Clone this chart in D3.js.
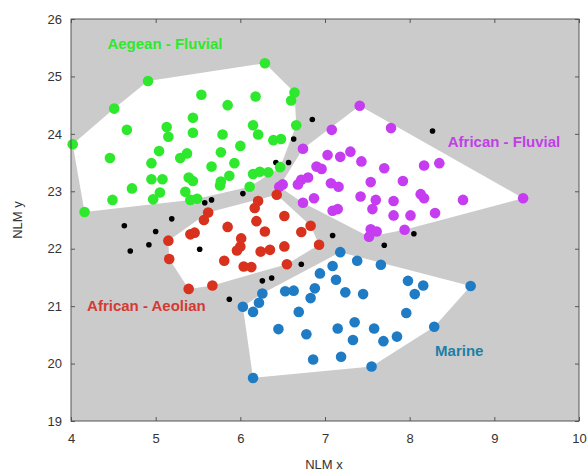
<!DOCTYPE html>
<html>
  <head>
    <meta charset="utf-8">
    <title>NLM scatter</title>
    <script src="https://d3js.org/d3.v7.min.js"></script>
    <style>
      body { margin: 0; background: #fff; }
      svg { display: block; font-family: "Liberation Sans", Arial, sans-serif; }
      .axis text { font-size: 13px; fill: #333; }
      .axis path, .axis line { stroke: #555; }
      .lbl { font-size: 15px; font-weight: bold; }
    </style>
  </head>
  <body>
    <svg id="chart" width="588" height="472"></svg>
    <script>
      // data (NLM x, NLM y)
      const aegeanFluvial = [
        [6.29,25.23],[4.91,24.92],[4.51,24.44],[4.02,23.82],[5.54,24.68],[6.18,24.65],[5.85,24.50],
        [6.64,24.72],[6.60,24.58],[5.44,24.28],[5.13,24.12],[5.15,23.95],[4.66,24.07],[5.44,24.02],
        [6.15,24.15],[6.21,23.99],[5.79,23.99],[6.66,24.15],[6.39,23.89],[6.48,23.91],[6.00,23.79],
        [4.46,23.58],[5.04,23.70],[5.29,23.58],[5.37,23.66],[5.77,23.68],[4.95,23.49],[5.93,23.49],
        [5.66,23.43],[6.47,23.42],[4.95,23.21],[5.08,23.21],[5.39,23.24],[5.44,23.18],[5.87,23.27],
        [5.77,23.17],[5.76,23.10],[6.15,23.30],[6.23,23.34],[6.33,23.33],[6.11,23.08],[4.72,23.05],
        [5.05,22.98],[5.35,22.99],[4.49,22.85],[4.97,22.86],[5.41,22.85],[5.49,22.87],[4.16,22.64]
      ];
      const africanFluvial = [
        [7.41,24.49],[7.08,24.07],[7.78,24.10],[6.74,23.74],[7.03,23.63],[7.18,23.60],[7.30,23.69],
        [7.43,23.52],[7.70,23.40],[6.90,23.43],[6.96,23.39],[8.17,23.45],[8.35,23.49],[6.80,23.24],
        [6.72,23.20],[6.68,23.12],[6.50,23.12],[6.46,23.08],[7.07,23.14],[7.16,23.08],[7.54,23.16],
        [7.92,23.18],[9.34,22.88],[8.63,22.85],[8.13,22.95],[8.17,22.88],[6.87,22.88],[6.74,22.80],
        [7.42,22.91],[7.60,22.85],[7.81,22.83],[7.09,22.66],[7.15,22.69],[7.56,22.69],[7.81,22.58],
        [8.01,22.58],[8.30,22.62],[7.54,22.34],[7.61,22.30],[7.52,22.21],[7.94,22.33]
      ];
      const africanAeolian = [
        [6.43,22.94],[6.21,22.83],[6.17,22.71],[5.62,22.63],[5.57,22.50],[6.19,22.48],[6.52,22.57],
        [5.85,22.38],[6.29,22.30],[6.72,22.29],[6.83,22.40],[5.41,22.25],[5.46,22.28],[5.15,22.14],
        [6.01,22.18],[6.00,22.04],[5.96,21.97],[6.93,22.07],[6.52,22.04],[6.24,21.95],[6.35,21.98],
        [5.16,21.82],[5.81,21.79],[6.04,21.69],[6.13,21.68],[6.55,21.73],[5.39,21.30],[5.67,21.36]
      ];
      const marine = [
        [7.18,21.94],[7.38,21.79],[7.66,21.72],[7.09,21.70],[6.94,21.57],[7.13,21.46],[7.98,21.44],
        [8.16,21.36],[8.72,21.35],[8.06,21.21],[6.88,21.31],[6.83,21.14],[7.24,21.24],[7.45,21.21],
        [6.53,21.26],[6.63,21.27],[6.26,21.22],[6.22,21.06],[6.03,20.99],[6.15,20.90],[6.69,20.90],
        [7.96,20.88],[7.35,20.72],[6.45,20.60],[6.78,20.51],[7.15,20.61],[7.58,20.61],[8.29,20.64],
        [7.85,20.47],[7.33,20.41],[7.69,20.39],[6.86,20.07],[7.19,20.12],[7.55,19.95],[6.15,19.75]
      ];
      const unassigned = [
        [6.85,24.25],[6.63,23.91],[6.42,23.50],[6.57,23.50],[6.03,22.96],[5.58,22.80],[5.66,22.85],
        [8.27,24.05],[7.09,22.23],[8.05,22.26],[5.19,22.52],[5.00,22.30],[4.92,22.07],[5.52,21.99],
        [6.72,21.73],[6.26,21.44],[6.37,21.49],[5.87,21.12],[7.70,22.06],[4.63,22.40],[4.70,21.96]
      ];
      const groupNames = ["Aegean - Fluvial", "African - Fluvial", "African - Aeolian", "Marine"];
      const xTicks = [4, 5, 6, 7, 8, 9, 10];
      const yTicks = [19, 20, 21, 22, 23, 24, 25, 26];

      const groups = [
        { name: groupNames[0], pts: aegeanFluvial, color: "#2de82d", text: "#2de82d", lx: 4.43, ly: 25.48 },
        { name: groupNames[1], pts: africanFluvial, color: "#c63cf0", text: "#c040e6", lx: 8.45, ly: 23.77 },
        { name: groupNames[2], pts: africanAeolian, color: "#d8321f", text: "#d43a33", lx: 4.19, ly: 20.92 },
        { name: groupNames[3], pts: marine, color: "#1f7cc4", text: "#1c7fa6", lx: 8.30, ly: 20.13 }
      ];

      const margin = { top: 19, right: 9, bottom: 51, left: 71 };
      const width = 588 - margin.left - margin.right;
      const height = 472 - margin.top - margin.bottom;

      const svg = d3.select("#chart");
      const g = svg.append("g").attr("transform", `translate(${margin.left},${margin.top})`);

      const x = d3.scaleLinear().domain([4, 10]).range([0, width]);
      const y = d3.scaleLinear().domain([19, 26]).range([height, 0]);

      g.append("rect").attr("width", width).attr("height", height).attr("fill", "#cbcbcb");

      // hulls
      groups.forEach(grp => {
        const hull = d3.polygonHull(grp.pts.map(d => [x(d[0]), y(d[1])]));
        g.append("path")
          .attr("d", "M" + hull.join("L") + "Z")
          .attr("fill", "#fff");
      });

      // unassigned samples
      g.selectAll(".blk")
        .data(unassigned)
        .enter().append("circle")
          .attr("cx", d => x(d[0]))
          .attr("cy", d => y(d[1]))
          .attr("r", 2.8)
          .attr("fill", "#000");

      groups.forEach(grp => {
        g.selectAll(null)
          .data(grp.pts)
          .enter().append("circle")
            .attr("cx", d => x(d[0]))
            .attr("cy", d => y(d[1]))
            .attr("r", 5.3)
            .attr("fill", grp.color);
        g.append("text")
          .attr("class", "lbl")
          .attr("x", x(grp.lx))
          .attr("y", y(grp.ly))
          .attr("fill", grp.text)
          .text(grp.name);
      });

      // axes, ticks inward on all sides
      g.append("g").attr("class", "axis")
        .attr("transform", `translate(0,${height})`)
        .call(d3.axisBottom(x).tickValues(xTicks).tickFormat(d3.format("d")).tickSize(-4).tickPadding(13));
      g.append("g").attr("class", "axis")
        .call(d3.axisLeft(y).tickValues(yTicks).tickFormat(d3.format("d")).tickSize(-4).tickPadding(9));
      g.append("g").attr("class", "axis")
        .call(d3.axisTop(x).tickValues(xTicks).tickSize(-4).tickFormat(""));
      g.append("g").attr("class", "axis")
        .attr("transform", `translate(${width},0)`)
        .call(d3.axisRight(y).tickValues(yTicks).tickSize(-4).tickFormat(""));
      g.selectAll(".axis .domain").remove();
      g.append("rect").attr("width", width).attr("height", height)
        .attr("fill", "none").attr("stroke", "#555");

      svg.append("text")
        .attr("x", margin.left + width / 2 - 1)
        .attr("y", 469)
        .attr("text-anchor", "middle")
        .attr("font-size", 13).attr("fill", "#333")
        .text("NLM x");
      svg.append("text")
        .attr("transform", `translate(22,${margin.top + height / 2}) rotate(-90)`)
        .attr("text-anchor", "middle")
        .attr("font-size", 13).attr("fill", "#333")
        .text("NLM y");
    </script>
  </body>
</html>
